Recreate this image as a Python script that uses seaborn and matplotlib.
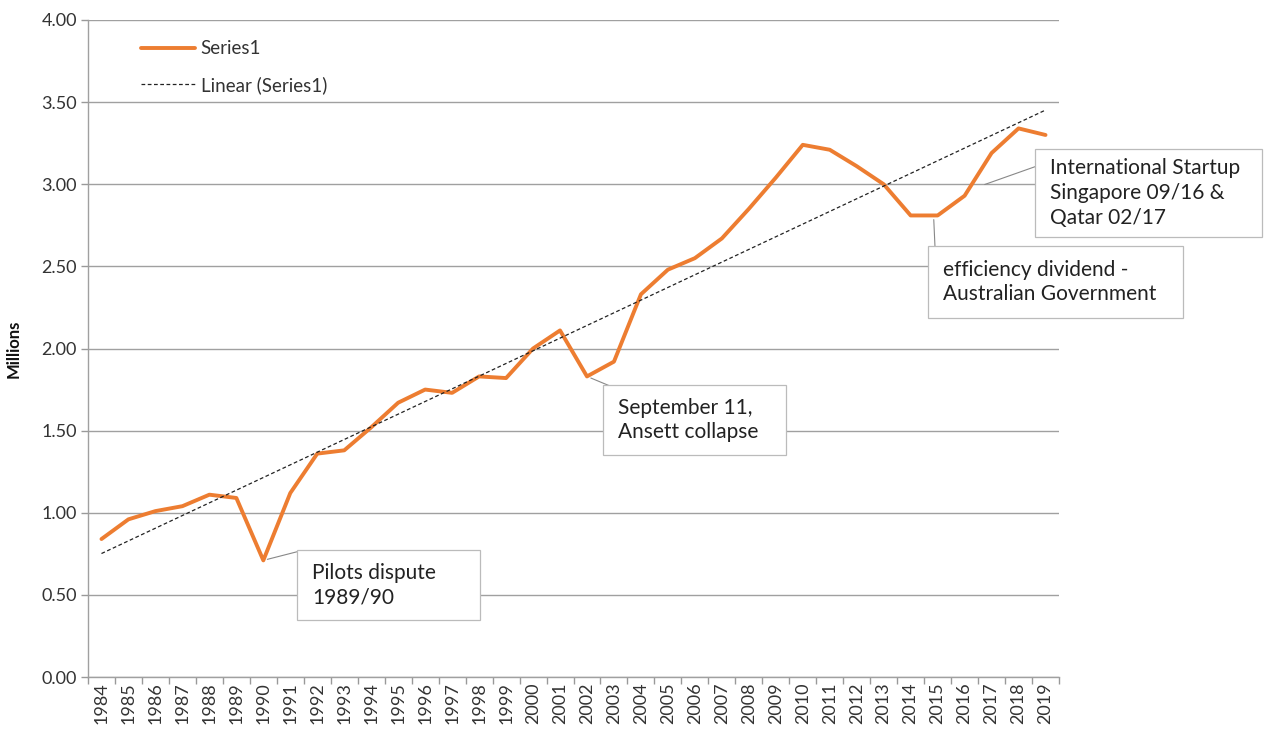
import numpy as np
import pandas as pd
import matplotlib
matplotlib.use("Agg")
import matplotlib.pyplot as plt
from matplotlib.patches import Rectangle
import seaborn as sns

years = list(range(1984, 2020))
values = [0.84, 0.96, 1.01, 1.04, 1.11, 1.09, 0.71, 1.12, 1.36, 1.38,
          1.52, 1.67, 1.75, 1.73, 1.83, 1.82, 2.00, 2.11, 1.83, 1.92,
          2.33, 2.48, 2.55, 2.67, 2.85, 3.04, 3.24, 3.21, 3.11, 3.00,
          2.81, 2.81, 2.93, 3.19, 3.34, 3.30]
ytick_vals = [0.0, 0.5, 1.0, 1.5, 2.0, 2.5, 3.0, 3.5, 4.0]

sns.set_theme(style="white")
plt.rcParams['font.family'] = ['Lato', 'DejaVu Sans']

df = pd.DataFrame({"year": years, "value": values})
coef = np.polyfit(df["year"], df["value"], 1)
df["trend"] = np.polyval(coef, df["year"])

W, H = 1266, 733
fig = plt.figure(figsize=(W / 100, H / 100), dpi=100)
ax = fig.add_axes([88 / W, 1 - 677 / H, (1059 - 88) / W, (677 - 20) / H])

orange = "#ED7D31"
sns.lineplot(data=df, x="year", y="value", ax=ax, color=orange, lw=2.8,
             label="Series1", zorder=3)
sns.lineplot(data=df, x="year", y="trend", ax=ax, color="#222222", lw=0.9,
             label="Linear (Series1)", zorder=4)
ax.lines[1].set_dashes([3, 2])

ax.set_xlim(years[0] - 0.5, years[-1] + 0.5)
ax.set_ylim(0, 4)
ax.set_yticks(ytick_vals)
ax.set_yticklabels([f"{v:.2f}" for v in ytick_vals], fontsize=13, color="#333333")
ax.set_xticks(years)
ax.set_xticklabels([str(y) for y in years], rotation=90, fontsize=13, color="#333333")
ax.set_xticks([y - 0.5 for y in years] + [years[-1] + 0.5], minor=True)
ax.tick_params(axis="x", which="major", length=0, pad=4)
ax.tick_params(axis="x", which="minor", length=5, color="#999999", width=1, direction="out", bottom=True)
ax.tick_params(axis="y", which="major", length=5, color="#999999", width=1, left=True, pad=3)

ax.grid(axis="y", color="#a0a0a0", lw=1)
ax.set_axisbelow(True)
for s in ["top", "right"]:
    ax.spines[s].set_visible(False)
for s in ["left", "bottom"]:
    ax.spines[s].set_color("#a0a0a0")
    ax.spines[s].set_linewidth(1)

ax.set_xlabel("")
ax.set_ylabel("Millions", fontsize=12, fontweight="bold", color="#111111", labelpad=14)

leg = ax.legend(loc="upper left", bbox_to_anchor=(0.037, 0.995), frameon=False,
                fontsize=13.5, handlelength=2.9, handletextpad=0.3, labelspacing=1.0)
for t in leg.get_texts():
    t.set_color("#333333")


def note(text, box, anchor, leader_end):
    # box = (left, top, right, bottom) in figure pixels (from top)
    l, t, r, b = box
    fig.add_artist(Rectangle((l, H - b), r - l, b - t, transform=None,
                             fc="white", ec="#bbbbbb", lw=0.9, zorder=6))
    fig.text((l + 15) / W, 1 - ((t + b) / 2) / H, text, fontsize=15, color="#222222",
             ha="left", va="center", linespacing=1.3, zorder=7)
    ax.annotate("", xy=anchor, xytext=(leader_end[0], H - leader_end[1]),
                textcoords="figure pixels",
                arrowprops=dict(arrowstyle="-", color="#888888", lw=0.8,
                                shrinkA=0, shrinkB=3), zorder=5)


note("Pilots dispute\n1989/90", (297, 550, 480, 620), (1990, 0.71), (300, 551))
note("September 11,\nAnsett collapse", (603, 385, 786, 455), (2002.0, 1.83), (610, 386))
note("efficiency dividend -\nAustralian Government", (928, 246, 1183, 318), (2014.85, 2.81), (935, 247))
note("International Startup\nSingapore 09/16 &\nQatar 02/17", (1035, 149, 1262, 237), (2016.6, 2.99), (1037, 166))

fig.savefig("out.png", dpi=100)
